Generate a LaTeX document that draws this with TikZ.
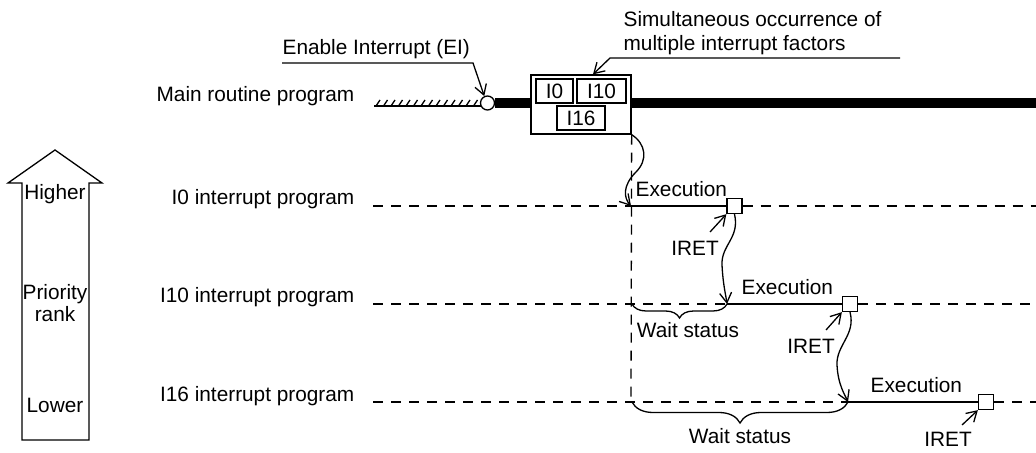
\documentclass[tikz,border=0pt]{standalone}
\usepackage{fontspec}
\setmainfont{Liberation Sans}
\usetikzlibrary{arrows.meta,decorations.pathreplacing,positioning}
\tikzset{
  lbl/.style={font=\fontsize{10.4}{12}\selectfont,inner sep=0pt},
  arr/.style={-{Straight Barb[length=5pt,width=6pt]}},
  dsh/.style={dash pattern=on 5pt off 4pt},
  mainln/.style={line width=5pt},
  ibox/.style={draw,fill=white,minimum height=12pt,inner sep=0pt,font=\fontsize{10.4}{12}\selectfont},
  sq/.style={draw,fill=white,minimum size=7.5pt,inner sep=0pt},
  wbrace/.style={decorate,decoration={brace,mirror,amplitude=#1}},
}
\begin{document}
\begin{tikzpicture}[x=0.5pt,y=-0.5pt,line width=0.65pt]
\useasboundingbox (0,0) rectangle (1036,453);

% priority arrow
\draw (22,440) -- (22,183) -- (8,183) -- (55,150) -- (102,183) -- (89,183) -- (89,440) -- cycle;
\node[lbl,anchor=base] (hi) at (55,200) {Higher};
\node[lbl,anchor=base] (prio) at (55,300) {Priority};
\node[lbl,anchor=base] (rank) at (55,322) {rank};
\node[lbl,anchor=base] (lo) at (55,412) {Lower};

% program names
\node[lbl,anchor=base east] (lm) at (355,102) {Main routine program};
\node[lbl,anchor=base east] (l0) at (355,205) {I0 interrupt program};
\node[lbl,anchor=base east] (l1) at (355,303) {I10 interrupt program};
\node[lbl,anchor=base east] (l2) at (355,401) {I16 interrupt program};

% main routine
\draw (374,106) -- (482,106);
\foreach \x in {376,383.5,...,476}
  \draw (\x,106) -- ++(4,-6);
\node[draw,fill=white,circle,minimum size=7pt,inner sep=0pt] (ein) at (487.5,103) {};
\node[draw,fill=white,minimum width=50pt,minimum height=29.5pt,inner sep=0pt] (fac) at (581,104.5) {};
\node[ibox,minimum width=18.5pt] (b0) at (554.5,91) {I0};
\node[ibox,minimum width=24.5pt] (b10) at (601.5,91) {I10};
\node[ibox,minimum width=24pt] (b16) at (581,118) {I16};
\coordinate (mr) at (1036,103);
\draw[mainln] (ein.east) -- (fac.west |- mr);
\draw[mainln] (fac.east |- mr) -- (mr);

% callouts
\node[lbl,anchor=base west] (ei) at (282,55) {Enable Interrupt (EI)};
\coordinate (ei0) at (282,63);
\coordinate (ei1) at (473,63);
\draw[arr] (ei0) -- (ei1) -- (ein.115);
\node[lbl,anchor=base west] (sim) at (623,27) {Simultaneous occurrence of};
\node[lbl,anchor=base west] (sim2) at (623,51) {multiple interrupt factors};
\coordinate (sm0) at (900,58);
\coordinate (sm1) at (610,58);
\draw[arr] (sm0) -- (sm1) -- ([xshift=6pt]fac.north);

% interrupt lines
\coordinate (a0) at (373,206);
\coordinate (a1) at (373,304);
\coordinate (a2) at (373,402);
\coordinate (s0) at (631,206);
\coordinate (s1) at (727,304);
\coordinate (s2) at (848,402);
\coordinate (z0) at (1036,206);
\coordinate (z1) at (1036,304);
\coordinate (z2) at (1036,402);
\node[sq] (e0) at (734.5,206) {};
\node[sq] (e1) at (850,304) {};
\node[sq] (e2) at (986,402) {};

\draw[dsh] (fac.south east) -- (s0 |- a2);
\draw[dsh] (a0) -- (s0);
\draw (s0) -- (e0);
\draw[dsh] (e0) -- (z0);
\draw[dsh] (a1) -- (s1);
\draw (s1) -- (e1);
\draw[dsh] (e1) -- (z1);
\draw[dsh] (a2) -- (s2);
\draw (s2) -- (e2);
\draw[dsh] (e2) -- (z2);

\node[lbl,anchor=base west] (x0) at (635,197) {Execution};
\node[lbl,anchor=base west] (x1) at (741,295) {Execution};
\node[lbl,anchor=base west] (x2) at (870,393) {Execution};

% transfers
\draw[arr] (fac.south east) .. controls (646,144) and (648,160) .. (636,172)
  .. controls (622,186) and (624,198) .. (s0);
\draw[arr] (e0.south) .. controls (740,238) and (721,245) .. (722,265)
  .. controls (723,285) and (726,296) .. (s1);
\draw[arr] (e1.south) .. controls (856,335) and (836,345) .. (837,365)
  .. controls (838,385) and (845,395) .. (s2);

% IRET
\node[lbl] (ir0) at (695,248) {IRET};
\node[lbl] (ir1) at (811,346) {IRET};
\node[lbl] (ir2) at (948,439) {IRET};
\coordinate (t0) at (710,232);
\coordinate (t1) at (826,330);
\coordinate (t2) at (962,425);
\draw[arr] (t0) -- (e0.south west);
\draw[arr] (t1) -- (e1.south west);
\draw[arr] (t2) -- (e2.south west);

% waiting
\draw[wbrace=7pt] ([xshift=0.5pt]s0 |- s1) -- (s1);
\node[lbl] (w1) at (688,330) {Wait status};
\draw[wbrace=10.5pt] ([xshift=0.5pt]s0 |- s2) -- (s2);
\node[lbl] (w2) at (740,436) {Wait status};
\end{tikzpicture}
\end{document}
